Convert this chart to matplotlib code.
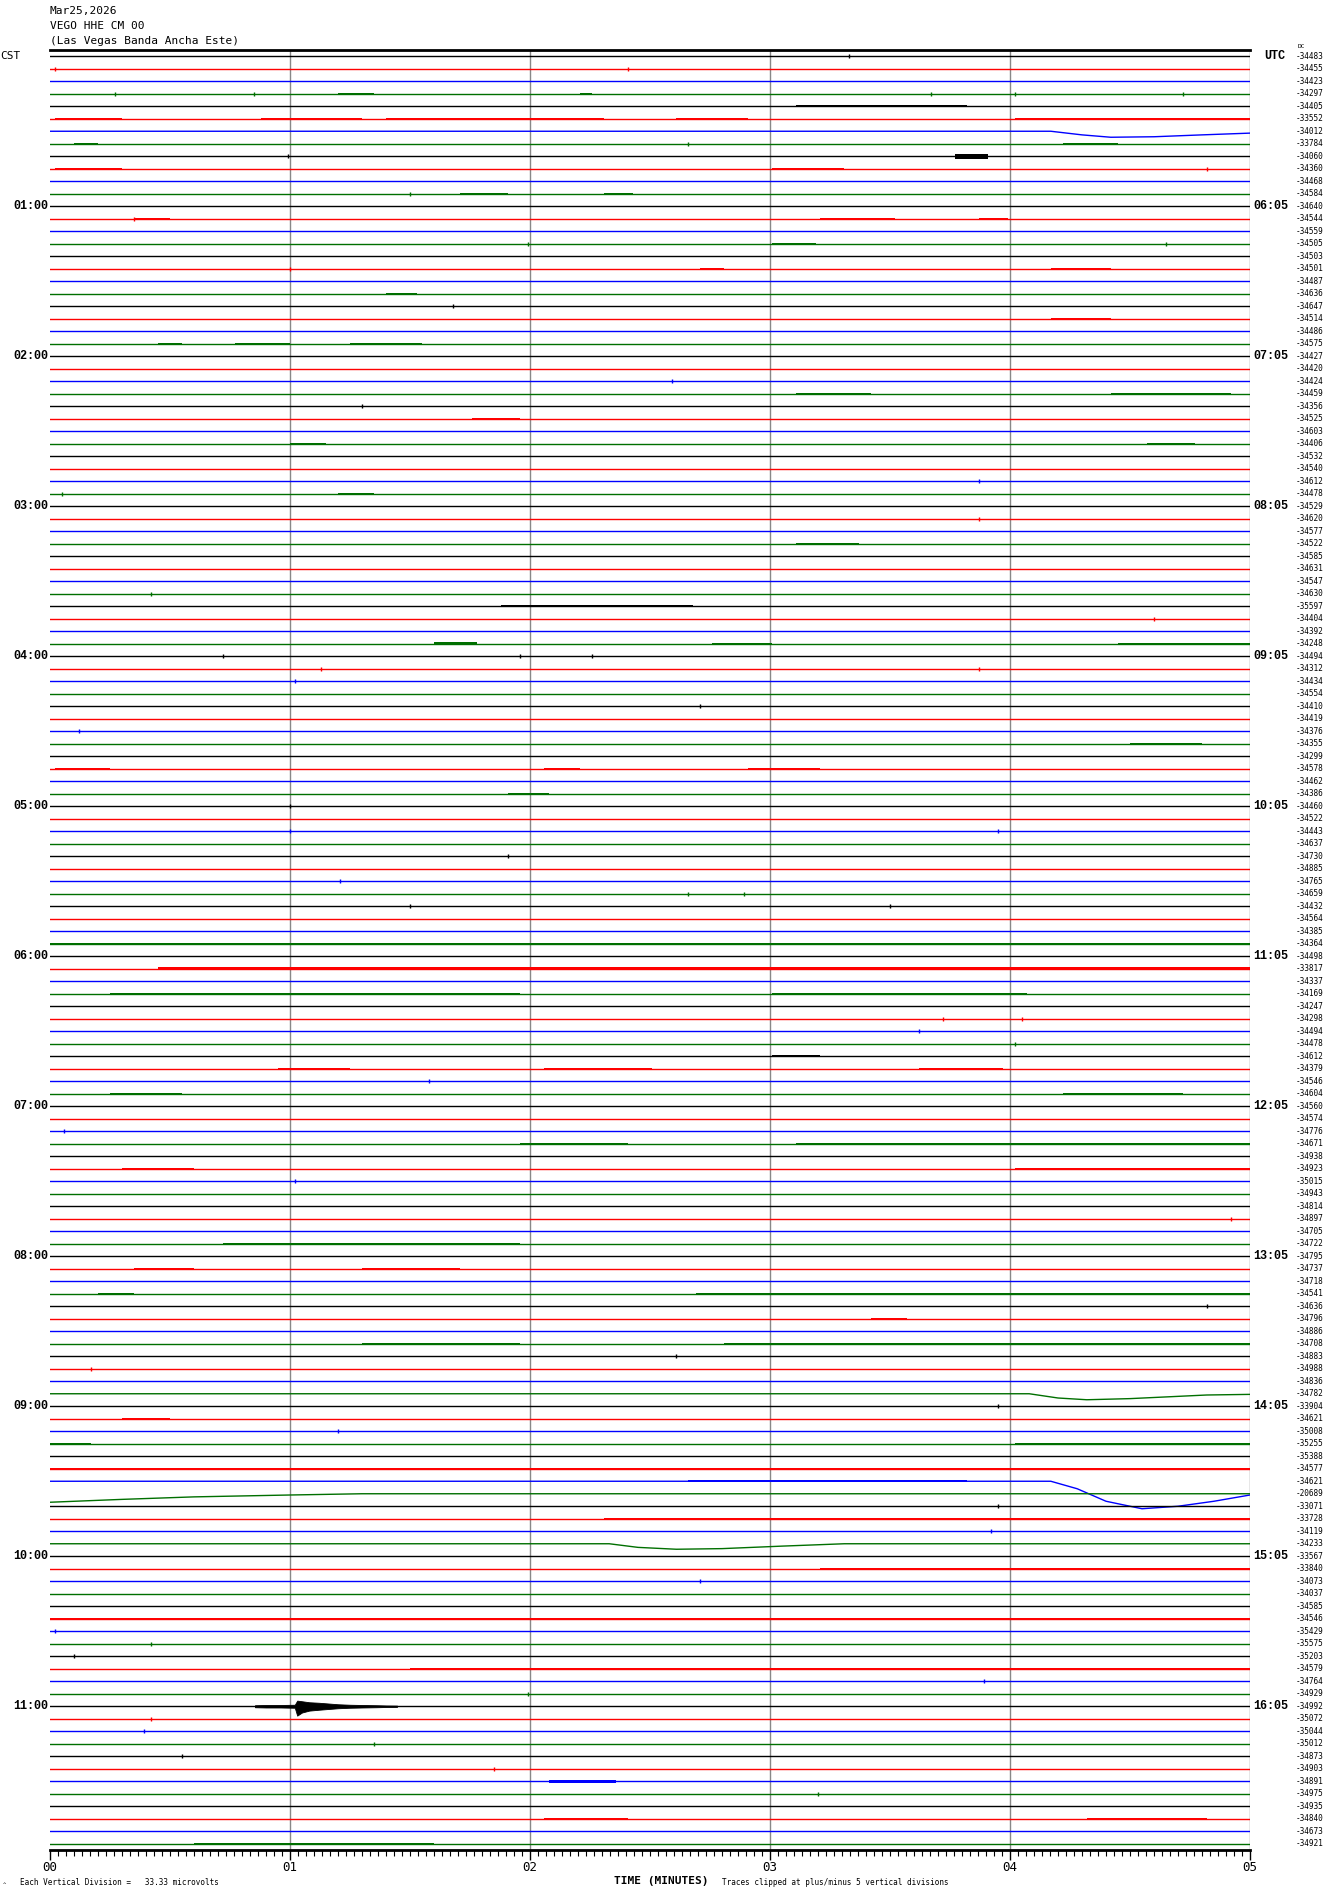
#!/usr/bin/env python3

import numpy as np
import matplotlib
matplotlib.use('Agg')
import matplotlib.pyplot as plt
from matplotlib import transforms
from matplotlib.ticker import MultipleLocator, FixedLocator

# station header
title_lines = ['Mar25,2026', 'VEGO HHE CM 00', '(Las Vegas Banda Ancha Este)']

# hour labels (trace index -> label)
cst_rows = [12, 24, 36, 48, 60, 72, 84, 96, 108, 120, 132]
cst_labels = ['01:00', '02:00', '03:00', '04:00', '05:00', '06:00',
              '07:00', '08:00', '09:00', '10:00', '11:00']
utc_labels = ['06:05', '07:05', '08:05', '09:05', '10:05', '11:05',
              '12:05', '13:05', '14:05', '15:05', '16:05']

# DC offsets printed at the right of every 5-minute trace
dc_values = [
    -34483, -34455, -34423, -34297, -34405, -33552, -34012, -33784,
    -34060, -34360, -34468, -34584, -34640, -34544, -34559, -34505,
    -34503, -34501, -34487, -34636, -34647, -34514, -34486, -34575,
    -34427, -34420, -34424, -34459, -34356, -34525, -34603, -34406,
    -34532, -34540, -34612, -34478, -34529, -34620, -34577, -34522,
    -34585, -34631, -34547, -34630, -35597, -34404, -34392, -34248,
    -34494, -34312, -34434, -34554, -34410, -34419, -34376, -34355,
    -34299, -34578, -34462, -34386, -34460, -34522, -34443, -34637,
    -34730, -34885, -34765, -34659, -34432, -34564, -34385, -34364,
    -34498, -33817, -34337, -34169, -34247, -34298, -34494, -34478,
    -34612, -34379, -34546, -34604, -34560, -34574, -34776, -34671,
    -34938, -34923, -35015, -34943, -34814, -34897, -34705, -34722,
    -34795, -34737, -34718, -34541, -34636, -34796, -34886, -34708,
    -34883, -34988, -34836, -34782, -33904, -34621, -35008, -35255,
    -35388, -34577, -34621, -20689, -33071, -33728, -34119, -34233,
    -33567, -33840, -34073, -34037, -34585, -34546, -35429, -35575,
    -35203, -34579, -34764, -34929, -34992, -35072, -35044, -35012,
    -34873, -34903, -34891, -34975, -34935, -34840, -34673, -34921,
]

# slow excursions: trace -> (minutes, offset in trace spacings, + is down)
dip_rows = [6, 107, 114, 115, 119]
dip_t = [
    [0, 4.17, 4.30, 4.42, 4.60, 4.80, 5.0],
    [0, 4.08, 4.20, 4.32, 4.50, 4.82, 5.0],
    [0, 4.17, 4.28, 4.40, 4.55, 4.70, 4.85, 5.0],
    [0, 0.30, 0.60, 1.00, 1.30, 5.0],
    [0, 2.33, 2.45, 2.61, 2.80, 3.05, 3.31, 5.0],
]
dip_off = [
    [0, 0, 0.29, 0.48, 0.44, 0.29, 0.15],
    [0, 0, 0.34, 0.48, 0.39, 0.10, 0.05],
    [0, 0, 0.60, 1.60, 2.20, 2.00, 1.60, 1.10],
    [0.68, 0.45, 0.25, 0.10, 0, 0],
    [0, 0, 0.29, 0.44, 0.39, 0.19, 0, 0],
]

# noisy stretches: trace, start, end (minutes), half amplitude (spacings)
burst_row = [3, 3, 4, 4, 5, 5, 5, 5, 5, 7, 7, 8, 9, 9, 11, 11, 13, 13, 13,
             15, 17, 17, 19, 21, 23, 23, 23, 26, 27, 27, 29, 31, 31, 35,
             39, 44, 44, 44, 47, 47, 47, 55, 57, 57, 57, 59, 71, 72, 73,
             75, 75, 80, 81, 81, 81, 83, 83, 87, 87, 89, 89, 95, 97, 97,
             99, 99, 101, 103, 103, 109, 111, 111, 113, 114, 117, 121,
             124, 124, 125, 129, 138, 141, 141, 143]
burst_t0 = [1.20, 2.21, 3.11, 4.27, 0.02, 0.88, 1.40, 2.61, 4.02, 0.10, 4.22,
            3.77, 0.02, 3.01, 1.71, 2.31, 0.35, 3.21, 3.87, 3.01, 2.71, 4.17,
            1.40, 4.17, 0.45, 0.77, 1.25, 3.52, 3.11, 4.42, 1.76, 1.00, 4.57,
            1.20, 3.11, 0.00, 1.88, 3.16, 1.60, 2.76, 4.45, 4.50, 0.02, 2.06,
            2.91, 1.91, 0.00, 4.82, 0.45, 0.25, 3.01, 3.01, 0.95, 2.06, 3.62,
            0.25, 4.22, 1.96, 3.11, 0.30, 4.02, 0.72, 0.35, 1.30, 0.20, 2.69,
            3.42, 1.30, 2.81, 0.30, 0.00, 4.02, 0.00, 2.66, 2.31, 3.21, 1.86,
            2.36, 0.00, 1.50, 2.08, 2.06, 4.32, 0.60]
burst_t1 = [1.35, 2.26, 3.82, 4.45, 0.30, 1.30, 2.31, 2.91, 5.00, 0.20, 4.45,
            3.91, 0.30, 3.31, 1.91, 2.43, 0.50, 3.52, 3.99, 3.19, 2.81, 4.42,
            1.53, 4.42, 0.55, 1.00, 1.55, 3.67, 3.42, 4.92, 1.96, 1.15, 4.77,
            1.35, 3.37, 0.05, 2.68, 3.62, 1.78, 3.01, 5.00, 4.80, 0.25, 2.21,
            3.21, 2.08, 5.00, 4.97, 5.00, 1.96, 4.07, 3.21, 1.25, 2.51, 3.97,
            0.55, 4.72, 2.41, 5.00, 0.60, 5.00, 1.96, 0.60, 1.71, 0.35, 5.00,
            3.57, 1.96, 5.00, 0.50, 0.17, 5.00, 5.00, 3.82, 5.00, 5.00, 2.06,
            2.61, 5.00, 5.00, 2.36, 2.41, 4.82, 1.60]
burst_amp = [0.07, 0.05, 0.07, 0.06, 0.05, 0.06, 0.06, 0.05, 0.08, 0.05, 0.06,
             0.22, 0.04, 0.04, 0.04, 0.07, 0.04, 0.08, 0.05, 0.07, 0.04, 0.05,
             0.05, 0.06, 0.04, 0.05, 0.05, 0.04, 0.05, 0.08, 0.07, 0.04, 0.07,
             0.04, 0.07, 0.06, 0.07, 0.06, 0.12, 0.07, 0.07, 0.05, 0.05, 0.05,
             0.07, 0.07, 0.10, 0.05, 0.11, 0.07, 0.05, 0.07, 0.09, 0.07, 0.09,
             0.05, 0.05, 0.07, 0.05, 0.04, 0.05, 0.07, 0.05, 0.04, 0.05, 0.05,
             0.05, 0.05, 0.05, 0.04, 0.07, 0.05, 0.07, 0.09, 0.05, 0.05, 0.04,
             0.04, 0.06, 0.05, 0.10, 0.05, 0.04, 0.04]

# isolated small spikes: trace, time (minutes)
spike_row = [0, 1, 1, 3, 3, 3, 3, 3, 7, 8, 9, 11, 13, 15, 15, 17, 20, 26,
             28, 34, 35, 37, 43, 45, 48, 48, 48, 49, 49, 50, 52, 54, 60,
             62, 62, 64, 66, 67, 67, 68, 68, 77, 77, 78, 79, 82, 86, 90,
             93, 100, 104, 105, 108, 110, 116, 118, 122, 126, 127, 128,
             130, 131, 133, 134, 135, 136, 137, 139]
spike_t = [3.33, 0.02, 2.41, 0.27, 0.85, 3.67, 4.72, 4.02, 2.66, 0.99, 4.82,
           1.50, 0.35, 1.99, 4.65, 1.00, 1.68, 2.59, 1.30, 3.87, 0.05, 3.87,
           0.42, 4.60, 0.72, 1.96, 2.26, 1.13, 3.87, 1.02, 2.71, 0.12, 1.00,
           1.00, 3.95, 1.91, 1.21, 2.66, 2.89, 1.50, 3.50, 3.72, 4.05, 3.62,
           4.02, 1.58, 0.06, 1.02, 4.92, 4.82, 2.61, 0.17, 3.95, 1.20, 3.95,
           3.92, 2.71, 0.02, 0.42, 0.10, 3.89, 1.99, 0.42, 0.39, 1.35, 0.55,
           1.85, 3.20]

# local earthquake on the 11:00 trace: envelope (spacings above / below)
quake_row = 132
quake_t = [0.854, 0.90, 0.96, 1.02, 1.03, 1.05, 1.08, 1.12, 1.16, 1.20, 1.25,
           1.30, 1.36, 1.40, 1.446]
quake_up = [0.08, 0.10, 0.10, 0.12, 0.45, 0.40, 0.32, 0.28, 0.22, 0.16, 0.12,
            0.10, 0.08, 0.06, 0.05]
quake_dn = [0.08, 0.10, 0.10, 0.12, 0.75, 0.50, 0.35, 0.28, 0.22, 0.16, 0.12,
            0.10, 0.08, 0.06, 0.05]

colors = ['black', '#ff0000', '#0000ff', '#006f00']
n_rows = len(dc_values)

W, H = 1330, 1894
fig = plt.figure(figsize=(W / 100, H / 100), dpi=100)
ax = fig.add_axes([50 / W, 44 / H, 1200 / W, 1800 / H])
ax.set_xlim(0, 5)
ax.set_ylim(n_rows - 0.5, -0.5)

# minute grid
for m in [1, 2, 3, 4, 5]:
    ax.axvline(m, color='#888888', lw=1.0, zorder=1)

for i in range(n_rows):
    c = colors[i % 4]
    if i in dip_rows:
        k = dip_rows.index(i)
        t = np.array(dip_t[k])
        y = i + np.array(dip_off[k])
    else:
        t = np.array([0, 5])
        y = np.array([i, i])
    ax.plot(t, y, color=c, lw=1.0, zorder=2)

for r, t0, t1, a in zip(burst_row, burst_t0, burst_t1, burst_amp):
    ax.fill_between([t0, t1], r - a, r + a, color=colors[r % 4], lw=0, zorder=2)

spike_c = [colors[r % 4] for r in spike_row]
ax.vlines(spike_t, np.array(spike_row) - 0.15, np.array(spike_row) + 0.15,
          colors=spike_c, lw=1.0, zorder=2)

ax.fill_between(quake_t, quake_row - np.array(quake_up), quake_row + np.array(quake_dn),
                color='black', lw=0.6, zorder=3)

# frame and time axis
for s in ['left', 'right']:
    ax.spines[s].set_visible(False)
ax.spines['top'].set_linewidth(2)
ax.spines['bottom'].set_linewidth(2)
ax.set_yticks([])
ax.xaxis.set_major_locator(FixedLocator([0, 1, 2, 3, 4, 5]))
ax.xaxis.set_minor_locator(MultipleLocator(1 / 30))
ax.set_xticklabels(['00', '01', '02', '03', '04', '05'],
                   fontfamily='DejaVu Sans Mono', fontsize=9)
ax.tick_params(axis='x', which='major', length=7, width=1, pad=1)
ax.tick_params(axis='x', which='minor', length=4, width=0.8)

mono = 'DejaVu Sans Mono'
bold = 'Liberation Mono'
fy = transforms.blended_transform_factory(fig.transFigure, ax.transData)

for k, line in enumerate(title_lines):
    fig.text(50 / W, 1 - (11 + 15 * k) / H, line, fontfamily=mono, fontsize=8,
             va='center', ha='left')

ax.text(0 / W, 0, 'CST', transform=fy, fontfamily=mono, fontsize=8, va='center', ha='left')
ax.text(1264 / W, 0, 'UTC', transform=fy, fontfamily=bold, fontsize=8.5,
        fontweight='bold', va='center', ha='left')
fig.text(1298 / W, 1 - 47 / H, 'DC', fontfamily=mono, fontsize=4.5, va='center', ha='left')

for r, lab in zip(cst_rows, cst_labels):
    ax.text(48 / W, r, lab, transform=fy, fontfamily=bold, fontsize=8.5,
            fontweight='bold', va='center', ha='right')
for r, lab in zip(cst_rows, utc_labels):
    ax.text(1253 / W, r, lab, transform=fy, fontfamily=bold, fontsize=8.5,
            fontweight='bold', va='center', ha='left')

for i, v in enumerate(dc_values):
    ax.text(1296 / W, i, str(v), transform=fy, fontfamily=mono, fontsize=5.6,
            va='center', ha='left')

fig.text(20 / W, 1 - 1882 / H, 'Each Vertical Division =   33.33 microvolts',
         fontfamily=mono, fontsize=5.5, va='center', ha='left')
fig.text(3 / W, 1 - 1884 / H, '^', fontfamily=mono, fontsize=4, va='center', ha='left')
fig.text(614 / W, 1 - 1881 / H, 'TIME (MINUTES)', fontfamily=mono, fontsize=8,
         fontweight='bold', va='center', ha='left')
fig.text(722 / W, 1 - 1882 / H, 'Traces clipped at plus/minus 5 vertical divisions',
         fontfamily=mono, fontsize=5.5, va='center', ha='left')

fig.savefig('out.png', dpi=100)
